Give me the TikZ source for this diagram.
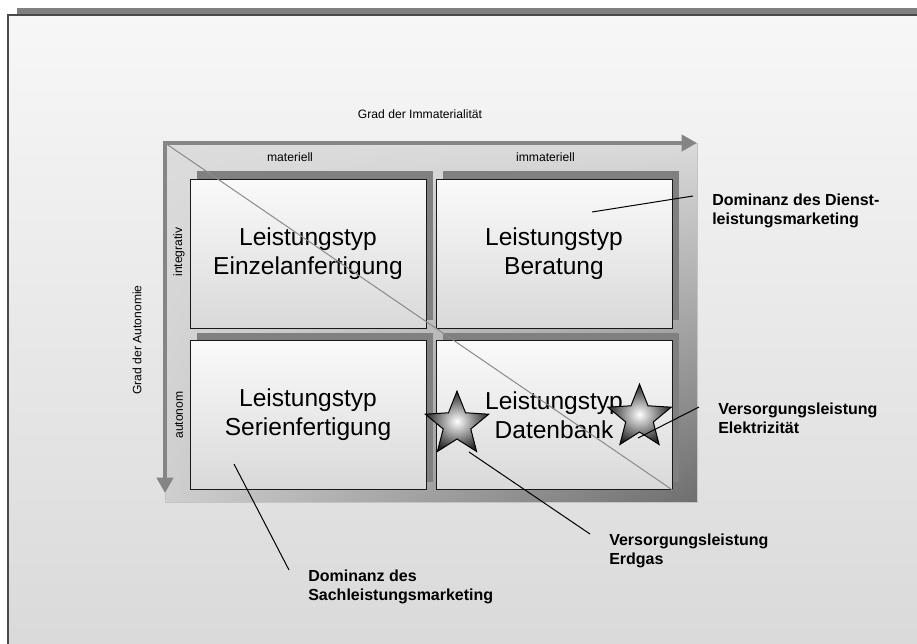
\documentclass[tikz,border=0pt]{standalone}
\usepackage{fontspec}
\setmainfont{Liberation Sans}
\usetikzlibrary{arrows.meta,shapes.geometric,shadings}

\definecolor{bgtop}{HTML}{F7F7F7}
\definecolor{bgbot}{HTML}{D9D9D9}
\definecolor{frameline}{HTML}{4A4A4A}
\definecolor{bargray}{HTML}{808080}
\definecolor{shadowgray}{HTML}{808080}
\definecolor{arrowgray}{HTML}{858585}
\definecolor{boxtop}{HTML}{FAFAFA}
\definecolor{boxbot}{HTML}{D9D9D9}
\definecolor{diaggray}{HTML}{8A8A8A}
\definecolor{pnlUL}{HTML}{DCDCDC}
\definecolor{pnlUR}{HTML}{DADADA}
\definecolor{pnlLL}{HTML}{CFCFCF}
\definecolor{pnlLR}{HTML}{6E6E6E}
\definecolor{pnledge}{HTML}{C4C4C4}

\begin{document}
\begin{tikzpicture}[x=0.75pt,y=-0.75pt,
  quad/.style={draw=black!90, line width=0.75pt, top color=boxtop, bottom color=boxbot,
    minimum width=177pt, minimum height=111.75pt, inner sep=0pt, align=center,
    font=\fontsize{18.4}{21.75}\selectfont},
  qshadow/.style={fill=shadowgray},
  axislabel/.style={font=\fontsize{9.1}{11}\selectfont, inner sep=0pt},
  callout/.style={font=\fontsize{12}{14.25}\selectfont\bfseries, align=left,
    anchor=north west, inner sep=0pt},
  leader/.style={draw=black, line width=0.75pt},
  axisarrow/.style={draw=arrowgray, line width=3pt, -{Triangle[length=11.5pt,width=12pt]}},
  diag/.style={draw=diaggray, line width=0.75pt},
  starmark/.style={star, star points=5, star point ratio=2.3, minimum size=50pt,
    inner sep=0pt, draw=black, line width=0.75pt,
    inner color=white, outer color=black!85}
]
% page area
\path[use as bounding box] (0,0) rectangle (917,643);
\fill[white] (0,0) rectangle (917,643);
\clip (0,0) rectangle (917,643);

% slide frame with title bar
\fill[bargray] (17,8) rectangle (940,15);
\shadedraw[top color=bgtop, bottom color=bgbot, draw=frameline, line width=1pt]
  (8,15) rectangle (940,660);

% shaded portfolio panel
\shade[upper left=pnlUL, upper right=pnlUR, lower left=pnlLL, lower right=pnlLR]
  (165,143) rectangle (697,502);
\draw[pnledge, line width=0.75pt] (165,143) rectangle (697,502);

% quadrant shadows
\fill[qshadow] (197,171) rectangle (433,320);
\fill[qshadow] (443,171) rectangle (679,320);
\fill[qshadow] (197,333) rectangle (433,482);
\fill[qshadow] (443,333) rectangle (679,482);

% quadrants
\node[quad] (q1) at (308,253.5) {Leistungstyp\\Einzelanfertigung};
\node[quad] (q2) at (554,253.5) {Leistungstyp\\Beratung};
\node[quad] (q3) at (308,415) {Leistungstyp\\Serienfertigung};
\node[quad] (q4) at (554,415) {Leistungstyp\\Datenbank};

% axes
\coordinate (origin) at (165,143);
\coordinate (xstart) at (163,143);
\coordinate (xend) at (697,143);
\coordinate (ystart) at (165,141);
\coordinate (yend) at (165,493);
\draw[axisarrow] (xstart) -- (xend);
\draw[axisarrow] (ystart) -- (yend);

% diagonal separating the two marketing domains
\draw[diag] (origin) -- (q4.south east);

% axis labels
\node[axislabel] (xtitle) at (420,114.5) {Grad der Immaterialität};
\node[axislabel] (mat) at (290,157) {materiell};
\node[axislabel] (immat) at (545.5,157) {immateriell};
\node[axislabel, rotate=90] (integ) at (179,252) {integrativ};
\node[axislabel, rotate=90] (auton) at (179,415) {autonom};
\node[axislabel, rotate=90] (ytitle) at (137,340) {Grad der Autonomie};

% utility stars
\node[starmark] (sgas) at (457,424.5) {};
\node[starmark] (selec) at (639.5,417.5) {};

% callouts
\node[callout] (ldienst) at (712,194) {Dominanz des Dienst-\\leistungsmarketing};
\node[callout] (lelek) at (718,403) {Versorgungsleistung\\Elektrizität};
\node[callout] (lerd) at (609,534) {Versorgungsleistung\\Erdgas};
\node[callout] (lsach) at (308,570) {Dominanz des\\Sachleistungsmarketing};

\coordinate (dA) at (592,212);
\coordinate (dB) at (693,196);
\coordinate (eA) at (638,438);
\coordinate (eB) at (699,407);
\coordinate (gA) at (469,452);
\coordinate (gB) at (590,534);
\coordinate (sA) at (234,464);
\coordinate (sB) at (289,570);
\draw[leader] (dA) -- (dB);
\draw[leader] (eA) -- (eB);
\draw[leader] (gA) -- (gB);
\draw[leader] (sA) -- (sB);
\end{tikzpicture}
\end{document}
